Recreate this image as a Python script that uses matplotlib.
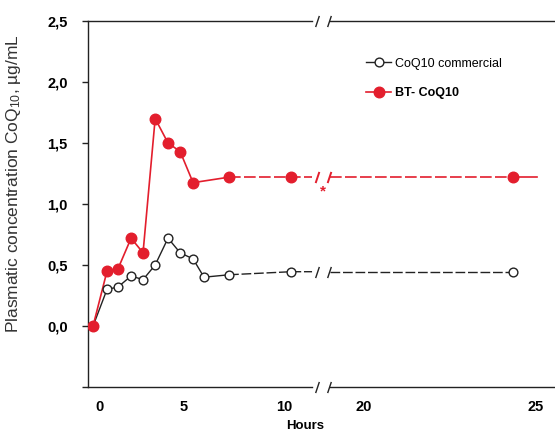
import numpy as np
import matplotlib
matplotlib.use("Agg")
import matplotlib.pyplot as plt
import matplotlib.transforms as mtransforms

# ---------------- data ----------------
hours_commercial = [0, 0.77, 1.38, 2.10, 2.76, 3.43, 4.14, 4.81, 5.47, 6.01, 7.25, 10.82, 24.36]
conc_commercial = [0.0, 0.30, 0.32, 0.41, 0.38, 0.50, 0.72, 0.60, 0.55, 0.40, 0.42, 0.445, 0.445]

hours_bt = [0, 0.77, 1.38, 2.10, 2.76, 3.43, 4.14, 4.81, 5.47, 7.25, 10.82, 24.36]
conc_bt = [0.0, 0.45, 0.47, 0.72, 0.60, 1.70, 1.50, 1.43, 1.175, 1.22, 1.22, 1.22]
bt_tail_end = 25.06

x_ticks = [0, 5, 10, 20, 25]
x_ticklabels = ["0", "5", "10", "20", "25"]
y_ticks = [-0.5, 0.0, 0.5, 1.0, 1.5, 2.0, 2.5]
y_ticklabels = ["", "0,0", "0,5", "1,0", "1,5", "2,0", "2,5"]

labels = ["CoQ10 commercial", "BT- CoQ10"]
RED = "#E31E2D"
BLACK = "#222222"

# axis break (hours)
gap_start, gap_end = 13.45, 15.7
slash_pos = [14.1, 15.6]
dash_from = 7.25

# piecewise-linear x scale (hand-drawn axis)
KH = np.array([0, 5, 10, 20, 25], float)
KU = np.array([0, 90.5, 191.5, 271, 442], float)


def _pw(x, xp, fp):
    x = np.asarray(x, float)
    shp = x.shape
    x = np.atleast_1d(x)
    y = np.interp(x, xp, fp)
    lo = x < xp[0]
    y[lo] = fp[0] + (x[lo] - xp[0]) * (fp[1] - fp[0]) / (xp[1] - xp[0])
    hi = x > xp[-1]
    y[hi] = fp[-1] + (x[hi] - xp[-1]) * (fp[-1] - fp[-2]) / (xp[-1] - xp[-2])
    return y.reshape(shp)


fwd = lambda x: _pw(x, KH, KU)
inv = lambda u: _pw(u, KU, KH)

plt.rcParams['font.family'] = ['Liberation Sans', 'DejaVu Sans']
plt.rcParams['mathtext.fontset'] = 'custom'
plt.rcParams['mathtext.rm'] = 'Liberation Sans'
plt.rcParams['mathtext.it'] = 'Liberation Sans:italic'

fig = plt.figure(figsize=(5.55, 4.32), dpi=100)
ax = fig.add_axes([88 / 555, 1 - 387 / 432, 1 - 88 / 555, (387 - 21) / 432])
ax.set_xscale('function', functions=(fwd, inv))
ax.set_xlim(-0.28, 25.58)
ax.set_ylim(-0.5, 2.5)

dash = (0, (7, 2))


def draw_series(h, c, color, lw, mk, ms, mfc, label, tail=None):
    h = np.asarray(h)
    c = np.asarray(c)
    pre = h <= 11
    hp, cp = h[pre], c[pre]
    solid = hp <= dash_from
    ax.plot(hp[solid], cp[solid], color=color, lw=lw, zorder=2)
    dsel = hp >= dash_from
    ax.plot(list(hp[dsel]) + [gap_start], list(cp[dsel]) + [cp[-1]], color=color, lw=lw,
            ls=dash, zorder=2)
    post_h = h[~pre]
    post_c = c[~pre]
    ax.plot([gap_end] + list(post_h), [post_c[0]] + list(post_c), color=color, lw=lw,
            ls=dash, zorder=2)
    if tail is not None:
        ax.plot([post_h[-1], tail], [post_c[-1], post_c[-1]], color=color, lw=lw, zorder=2)
    ax.plot(h, c, ls='none', marker=mk, ms=ms, mfc=mfc, mec=color, mew=1.0, zorder=3)
    # break slashes on the line
    ax.plot(slash_pos, [cp[-1]] * 2, ls='none', marker=[(-1, -3), (1, 3)], ms=8,
            mec=color, mew=1.4 if color == RED else 1.0, zorder=3)
    # legend proxy
    return ax.plot([], [], color=color, lw=lw, marker=mk, ms=ms, mfc=mfc, mec=color,
                   mew=1.0, label=label)[0]


h1 = draw_series(hours_commercial, conc_commercial, BLACK, 1.0, 'o', 6.3, 'white', labels[0])
h2 = draw_series(hours_bt, conc_bt, RED, 1.2, 'o', 7.6, RED, labels[1], tail=bt_tail_end)

# asterisk
ax.annotate("*", xy=(14.85, conc_bt[-1]), xytext=(0, -10), textcoords='offset points',
            ha='center', va='center', color=RED, fontsize=11, fontweight='bold')

# spines
for s in ['right', 'top', 'bottom']:
    ax.spines[s].set_visible(False)
ax.spines['left'].set_linewidth(1.0)
ax.spines['left'].set_color(BLACK)
xt = ax.get_xaxis_transform()
for yy in (0, 1):
    ax.plot([-0.28, gap_start], [yy, yy], color=BLACK, lw=1.0, transform=xt, clip_on=False)
    ax.plot([gap_end, 25.58], [yy, yy], color=BLACK, lw=1.0, transform=xt, clip_on=False)
    ax.plot(slash_pos, [yy, yy], ls='none', marker=[(-1, -3), (1, 3)], ms=8, mec=BLACK,
            mew=1.0, transform=xt, clip_on=False)

ax.set_yticks(y_ticks)
ax.set_yticklabels(y_ticklabels, fontsize=10.5, fontweight='bold')
ax.tick_params(axis='y', length=4, width=1, direction='out', pad=10.5, color=BLACK)
ax.set_xticks(x_ticks)
ax.set_xticklabels(x_ticklabels, fontsize=10.5, fontweight='bold')
ax.tick_params(axis='x', length=0, pad=9.5)
ax.xaxis.set_minor_locator(matplotlib.ticker.NullLocator())
# the "0" label sits a little right of time zero in the original
lab0 = ax.get_xticklabels()[0]
lab0.set_transform(lab0.get_transform() +
                   mtransforms.ScaledTranslation(6.5 / 100, 0, fig.dpi_scale_trans))

ax.set_ylabel("Plasmatic concentration CoQ$_{10}$, µg/mL", fontsize=12.5,
              color='#333333')
ax.yaxis.set_label_coords(-0.14, 0.555)
fig.text(305 / 555, 1 - 426 / 432, "Hours", ha='center', va='center', fontsize=9.5,
         fontweight='bold')

leg = ax.legend(handles=[h1, h2], loc='upper left', bbox_to_anchor=(0.572, 0.93),
                frameon=False, fontsize=9, handlelength=2.0, labelspacing=1.4,
                handletextpad=0.3)
leg.get_texts()[1].set_fontweight('bold')

fig.savefig("out.png", dpi=100)
